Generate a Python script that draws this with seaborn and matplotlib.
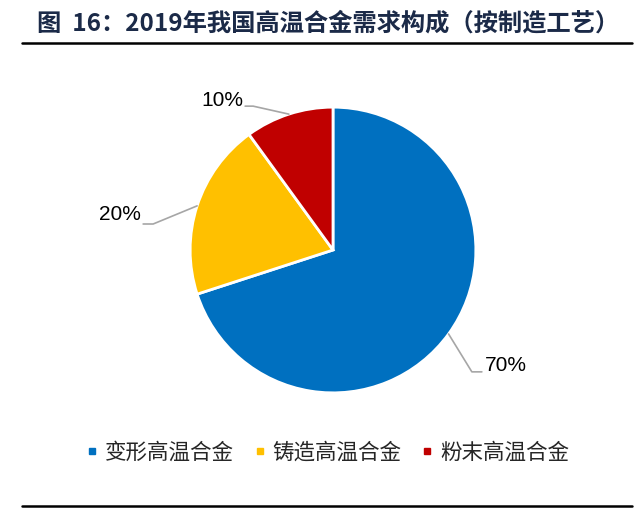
import numpy as np
import matplotlib
matplotlib.use("Agg")
import matplotlib.pyplot as plt
from matplotlib.lines import Line2D
import seaborn as sns

categories = ["变形高温合金", "铸造高温合金", "粉末高温合金"]
values = [70, 20, 10]
labels = ["70%", "20%", "10%"]
colors = ["#0070C0", "#FFC000", "#C00000"]
title = "图  16：2019年我国高温合金需求构成（按制造工艺）"

sns.set_theme(style="white")
plt.rcParams['font.family'] = ['Noto Sans CJK SC', 'DejaVu Sans']

fig = plt.figure(figsize=(6.44, 5.16), dpi=100)
ax = fig.add_axes([(333 - 200) / 644, (516 - 250 - 200) / 516, 400 / 644, 400 / 516])
wedges, _ = ax.pie(values, colors=colors, startangle=90, counterclock=False,
                   radius=1.0, wedgeprops=dict(edgecolor="white", linewidth=2))
ax.set_xlim(-1.4, 1.4)
ax.set_ylim(-1.4, 1.4)
ax.set_aspect("equal")
ax.axis("off")

# leader lines relative to wedge mid-angle point on the rim
layout = {
    "70%": dict(elbow=(0.972, -0.853), end=(1.042, -0.853), text=(1.06, -0.81), ha="left"),
    "20%": dict(elbow=(-1.259, 0.182), end=(-1.329, 0.182), text=(-1.345, 0.245), ha="right"),
    "10%": dict(elbow=(-0.559, 1.007), end=(-0.615, 1.007), text=(-0.63, 1.05), ha="right"),
}
for w, lab in zip(wedges, labels):
    ang = np.deg2rad((w.theta1 + w.theta2) / 2)
    ex, ey = np.cos(ang), np.sin(ang)
    L = layout[lab]
    ax.plot([ex, L["elbow"][0], L["end"][0]], [ey, L["elbow"][1], L["end"][1]],
            color="#A6A6A6", lw=1.2, clip_on=False)
    ax.text(L["text"][0], L["text"][1], lab, ha=L["ha"], va="center",
            fontsize=15, color="black", family=["Liberation Sans"])

fig.text(0.51, 1 - 23 / 516, title, ha="center", va="center", fontsize=17.5,
         fontweight="bold", color="#1B2A48")

fig.add_artist(Line2D([22 / 644, 632 / 644], [1 - 43 / 516] * 2, color="black", lw=1.8))
fig.add_artist(Line2D([22 / 644, 632 / 644], [1 - 506 / 516] * 2, color="black", lw=1.8))

handles = [Line2D([0], [0], marker="s", linestyle="none", markersize=5,
                  markerfacecolor=c, markeredgecolor=c) for c in colors]
fig.legend(handles, categories, loc="center", bbox_to_anchor=(0.51, 1 - 453 / 516),
           ncol=3, frameon=False, fontsize=15.5, handlelength=0.4, handletextpad=0.4,
           columnspacing=1.0)

fig.savefig("out.png", dpi=100)
